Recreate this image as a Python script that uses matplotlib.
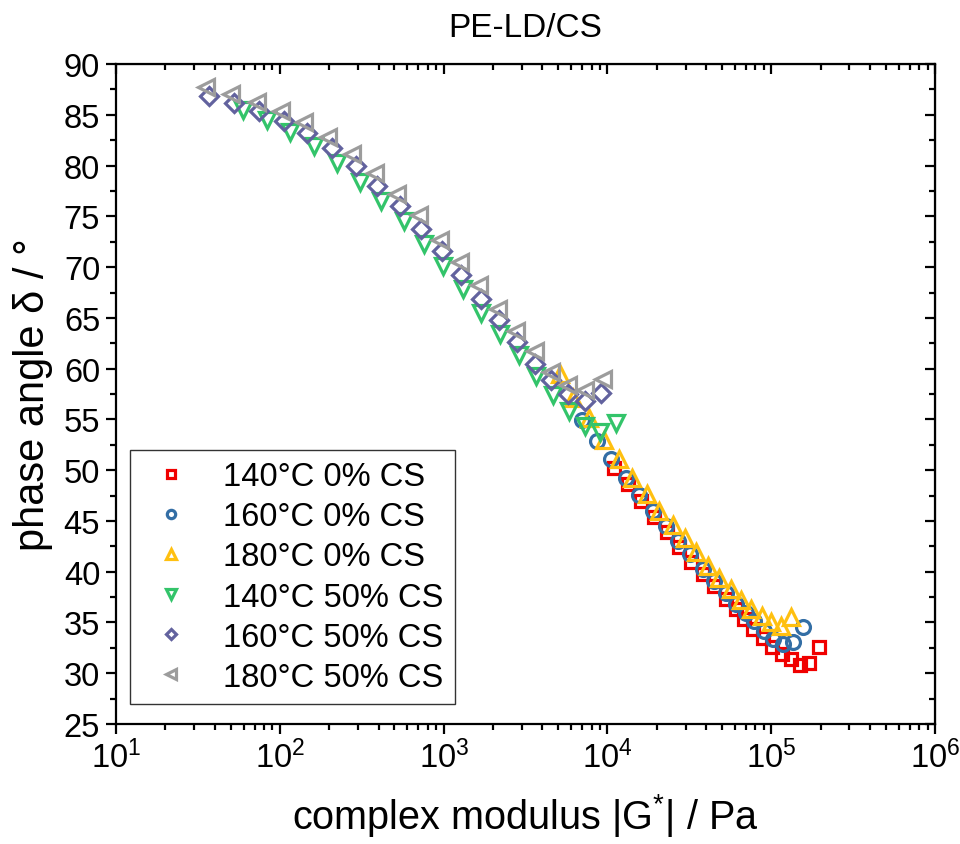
import matplotlib
matplotlib.use("Agg")
import matplotlib.pyplot as plt
from matplotlib.ticker import MultipleLocator, LogLocator, NullFormatter

plt.rcParams['font.family'] = ['Liberation Sans', 'DejaVu Sans']
plt.rcParams['mathtext.fontset'] = 'custom'
plt.rcParams['mathtext.rm'] = 'Liberation Sans'
plt.rcParams['mathtext.it'] = 'Liberation Sans:italic'
plt.rcParams['mathtext.default'] = 'regular'

# complex modulus |G*| (Pa) and phase angle (deg)
g_140_0 = [10890, 13300, 16040, 19360, 23000, 27220, 32370, 38110, 44880, 52960,
           60950, 68410, 77660, 88720, 101400, 115600, 132500, 150300, 170600, 196200]
d_140_0 = [50.2, 48.6, 47.0, 45.4, 43.9, 42.4, 41.0, 39.8, 38.6, 37.3,
           36.3, 35.3, 34.4, 33.5, 32.6, 31.9, 31.4, 30.8, 31.0, 32.6]

g_160_0 = [7015, 8630, 10570, 13000, 15670, 19060, 22800, 27100, 31930, 38110,
           44880, 52960, 60950, 70140, 78700, 90000, 102800, 117800, 136200, 155700]
d_160_0 = [54.9, 52.9, 51.1, 49.2, 47.6, 46.0, 44.5, 43.0, 41.7, 40.3,
           39.1, 37.9, 36.8, 35.9, 35.1, 34.2, 33.4, 32.9, 33.1, 34.6]

g_180_0 = [5097, 6142, 7762, 9586, 11720, 14150, 17460, 20760, 25010, 29790,
           34750, 40930, 48190, 56790, 65330, 75510, 87500, 100000, 114600, 131900]
d_180_0 = [59.5, 57.1, 55.1, 53.0, 51.1, 49.2, 47.7, 46.0, 44.6, 43.3,
           41.9, 40.6, 39.4, 38.3, 37.2, 36.3, 35.6, 35.0, 34.7, 35.5]

g_140_50 = [59.3, 83.0, 116, 161, 224, 307, 415, 570, 755, 990,
            1312, 1698, 2218, 2866, 3638, 4640, 5781, 7244, 8974, 11300]
d_140_50 = [85.5, 84.5, 83.3, 81.9, 80.3, 78.4, 76.5, 74.5, 72.3, 70.1,
            67.8, 65.5, 63.4, 61.3, 59.3, 57.4, 55.8, 54.4, 53.8, 54.6]

g_160_50 = [37.1, 52.4, 74.8, 106, 147, 207, 290, 392, 539, 724,
            972, 1283, 1682, 2173, 2799, 3591, 4541, 5729, 7244, 9162]
d_160_50 = [86.9, 86.2, 85.4, 84.4, 83.2, 81.7, 80.0, 78.0, 76.0, 73.8,
            71.6, 69.2, 66.9, 64.8, 62.6, 60.5, 58.9, 57.5, 56.8, 57.6]

g_180_50 = [35.4, 50.3, 72.1, 101, 140, 197, 276, 378, 519, 707,
            946, 1253, 1641, 2143, 2775, 3591, 4541, 5729, 7244, 9354]
d_180_50 = [87.7, 87.1, 86.3, 85.4, 84.3, 82.8, 81.1, 79.3, 77.2, 75.1,
            72.7, 70.5, 68.2, 65.9, 63.7, 61.7, 59.7, 58.4, 57.9, 59.0]

labels = ["140°C 0% CS", "160°C 0% CS", "180°C 0% CS",
          "140°C 50% CS", "160°C 50% CS", "180°C 50% CS"]

fig = plt.figure(figsize=(9.6, 8.45), dpi=100)
ax = fig.add_axes([0.121, 0.142, 0.853, 0.781])

# order matters: later series sit on top
ax.plot(g_140_0, d_140_0, 's', ms=8.5, mfc='none', mec='#F00000', mew=2.3, label=labels[0])
ax.plot(g_160_0, d_160_0, 'o', ms=10, mfc='none', mec='#336EA5', mew=2.3, label=labels[1])
ax.plot(g_180_0, d_180_0, '^', ms=11.5, mfc='none', mec='#FFC010', mew=2.3, label=labels[2])
ax.plot(g_140_50, d_140_50, 'v', ms=11.5, mfc='none', mec='#33C46A', mew=2.3, label=labels[3])
ax.plot(g_160_50, d_160_50, 'D', ms=9, mfc='none', mec='#62629E', mew=2.3, label=labels[4])
ax.plot(g_180_50, d_180_50, '<', ms=11.5, mfc='none', mec='#9C9C9C', mew=2.3, label=labels[5])

ax.set_xscale('log')
ax.set_xlim(10, 1e6)
ax.set_ylim(25, 90)
ax.yaxis.set_major_locator(MultipleLocator(5))
ax.yaxis.set_minor_locator(MultipleLocator(2.5))
ax.xaxis.set_major_locator(LogLocator(base=10, numticks=10))
ax.xaxis.set_minor_locator(LogLocator(base=10, subs=range(2, 10), numticks=20))
ax.xaxis.set_minor_formatter(NullFormatter())

for s in ax.spines.values():
    s.set_linewidth(1.6)
ax.tick_params(which='major', direction='out', length=7.5, width=1.6, labelsize=23.5, pad=4)
ax.tick_params(which='minor', direction='out', length=4.5, width=1.6)

# top and right axes: ticks point inward, no labels
top = ax.secondary_xaxis('top')
top.xaxis.set_major_locator(LogLocator(base=10, numticks=10))
top.xaxis.set_minor_locator(LogLocator(base=10, subs=range(2, 10), numticks=20))
top.tick_params(which='major', direction='in', length=7.5, width=1.6, labeltop=False)
top.tick_params(which='minor', direction='in', length=4.5, width=1.6, labeltop=False)
right = ax.secondary_yaxis('right')
right.yaxis.set_major_locator(MultipleLocator(5))
right.yaxis.set_minor_locator(MultipleLocator(2.5))
right.tick_params(which='major', direction='in', length=7.5, width=1.6, labelright=False)
right.tick_params(which='minor', direction='in', length=4.5, width=1.6, labelright=False)

ax.set_xlabel(r'complex modulus |G$^{*}$| / Pa', fontsize=28.5, labelpad=12)
ax.set_ylabel('phase angle δ / °', fontsize=30, labelpad=8)
ax.set_title('PE-LD/CS', fontsize=24, pad=20)

leg = ax.legend(loc='lower left', bbox_to_anchor=(0.017, 0.03), borderaxespad=0,
                fontsize=23.5, markerscale=0.6, frameon=True, fancybox=False,
                edgecolor='black', handletextpad=0.7, labelspacing=0.28,
                borderpad=0.35, handlelength=1.8)
leg.get_frame().set_linewidth(1.0)

fig.savefig('out.png', dpi=100)
